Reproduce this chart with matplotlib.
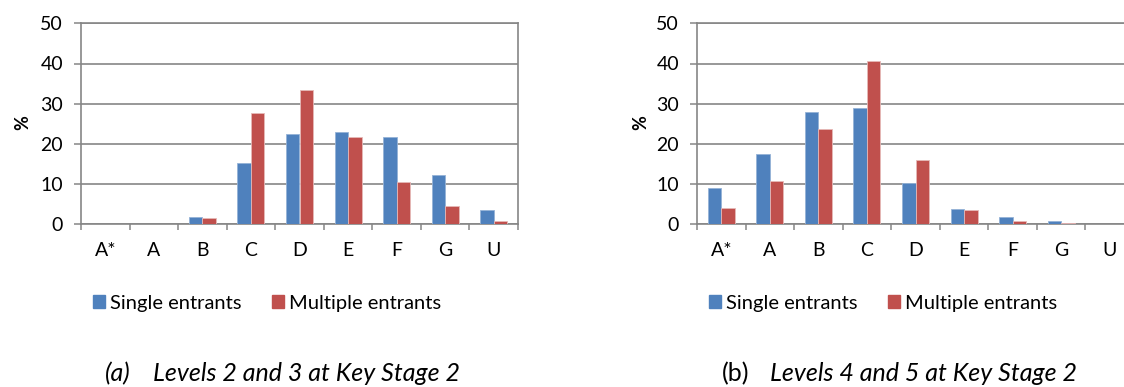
import matplotlib
matplotlib.use("Agg")
from matplotlib import pyplot as plt
from matplotlib.patches import Patch
import numpy as np

grades = ['A*', 'A', 'B', 'C', 'D', 'E', 'F', 'G', 'U']
a_single = [0, 0.1, 1.8, 15.3, 22.4, 23.0, 21.7, 12.2, 3.6]
a_multiple = [0, 0, 1.6, 27.7, 33.3, 21.8, 10.5, 4.5, 0.7]
b_single = [9.1, 17.4, 27.9, 28.9, 10.2, 3.9, 1.9, 0.7, 0.1]
b_multiple = [4.1, 10.7, 23.7, 40.7, 16.1, 3.6, 0.9, 0.2, 0.1]
series_names = ['Single entrants', 'Multiple entrants']
captions = [('(a)', 'Levels 2 and 3 at Key Stage 2', True),
            ('(b)', 'Levels 4 and 5 at Key Stage 2', False)]

plt.rcParams['font.family'] = ['Lato', 'DejaVu Sans']

W, H = 1124, 387
blue, red = '#4F81BD', '#C0504D'
grid_col = '#868686'

fig = plt.figure(figsize=(W / 100, H / 100), dpi=100)

def px(x, y):
    return x / W, 1 - y / H

def draw_panel(left_px, single, multiple, ylab_x):
    l, b = px(left_px, 224.3)
    ax = fig.add_axes([l, b, 437 / W, 201 / H])
    x = np.arange(len(grades))
    bw = 0.278
    ax.bar(x - bw / 2, single, bw, color=blue, edgecolor='#95B3D7', linewidth=0.6, zorder=3)
    ax.bar(x + bw / 2, multiple, bw, color=red, edgecolor='#E6B9B8', linewidth=0.6, zorder=3)
    ax.set_xlim(-0.5, len(grades) - 0.5)
    ax.set_ylim(0, 50)
    ax.set_yticks([0, 10, 20, 30, 40, 50])
    ax.yaxis.grid(True, color=grid_col, linewidth=1.2, zorder=1)
    ax.set_xticks(np.arange(len(grades) + 1) - 0.5)
    ax.set_xticklabels([])
    ax.set_xticks(x, minor=True)
    ax.set_xticklabels(grades, minor=True)
    ax.tick_params(axis='x', which='major', length=4, width=1.1, color=grid_col)
    ax.tick_params(axis='x', which='minor', length=0, pad=13, labelsize=14)
    ax.tick_params(axis='y', length=5, width=1.1, color=grid_col, labelsize=14, pad=8)
    for s in ax.spines.values():
        s.set_color(grid_col)
        s.set_linewidth(1.2)
    fig.text(*px(ylab_x, 123), '%', rotation=90, fontsize=13, fontweight='bold',
             ha='center', va='center')
    return ax

draw_panel(81, a_single, a_multiple, 23)
draw_panel(697, b_single, b_multiple, 641)

handles = [Patch(color=blue), Patch(color=red)]
for lx in (93, 709):
    fig.legend(handles, series_names, loc='center left', bbox_to_anchor=px(lx, 303),
               ncol=2, frameon=False, fontsize=14.5, handlelength=0.6, handleheight=0.6,
               handletextpad=0.25, columnspacing=1.5, borderpad=0, borderaxespad=0)

for (tag, text, tag_italic), (tx, lx) in zip(captions, [(105, 153), (722, 770)]):
    fig.text(*px(tx, 381), tag, fontsize=18, style='italic' if tag_italic else 'normal',
             ha='left', va='baseline')
    fig.text(*px(lx, 381), text, fontsize=18, style='italic', ha='left', va='baseline')

fig.savefig('out.png', dpi=100)
